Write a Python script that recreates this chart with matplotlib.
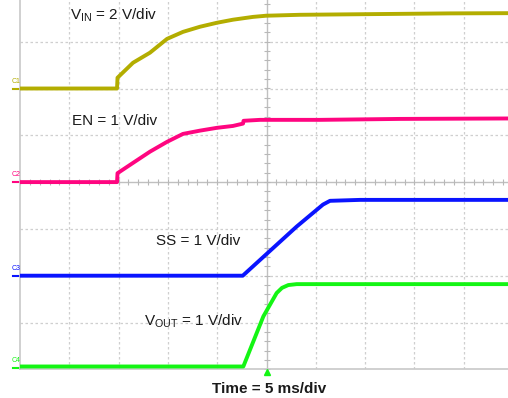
import matplotlib
matplotlib.use("Agg")
import matplotlib.pyplot as plt
import numpy as np

plt.rcParams['font.family'] = ['Liberation Sans', 'DejaVu Sans']

# time in ms (trigger at 0), 5 ms/div
vin_t = [-25.0, -15.16, -15.11, -13.54, -11.82, -10.09, -8.47, -6.74, -5.02,
         -3.40, -1.37, -0.05, 3.40, 8.47, 13.54, 18.6, 25.0]
vin_v = [0.0, 0.0, 0.46, 1.10, 1.53, 2.12, 2.42, 2.64, 2.81,
         2.94, 3.06, 3.11, 3.15, 3.17, 3.19, 3.21, 3.22]

en_t = [-25.0, -15.16, -15.11, -13.54, -11.82, -10.09, -8.47, -6.74, -5.02,
        -3.40, -2.38, -2.33, -0.66, 5.43, 13.54, 25.0]
en_v = [0.0, 0.0, 0.19, 0.41, 0.65, 0.86, 1.03, 1.10, 1.16,
        1.20, 1.25, 1.31, 1.33, 1.33, 1.35, 1.36]

ss_t = [-25.0, -2.41, 3.06, 5.73, 6.44, 9.48, 25.0]
ss_v = [0.0, 0.0, 1.05, 1.52, 1.60, 1.62, 1.62]

vout_t = [-25.0, -2.35, -0.32, 1.03, 1.57, 2.21, 3.06, 25.0]
vout_v = [0.03, 0.03, 1.10, 1.60, 1.71, 1.77, 1.79, 1.79]

# channel name, V/div, screen offset (div), colour, label
channels = [
    ("C1", 2.0, 2.0, "#b3ad00", r"V$_{\mathregular{IN}}$ = 2 V/div", vin_t, vin_v),
    ("C2", 1.0, 0.0, "#ff0580", "EN = 1 V/div", en_t, en_v),
    ("C3", 1.0, -2.0, "#0a14ff", "SS = 1 V/div", ss_t, ss_v),
    ("C4", 1.0, -3.97, "#14f514", r"V$_{\mathregular{OUT}}$ = 1 V/div", vout_t, vout_v),
]
# label anchor (right end, baseline) in (ms, div)
label_pos = [(-11.1, 3.47), (-11.1, 1.22), (-2.69, -1.34), (-2.38, -3.05)]

W, H = 508, 398
fig = plt.figure(figsize=(W / 100, H / 100), dpi=100)
ax = fig.add_axes([20 / W, (H - 369.3) / H, 493 / W, 374.4 / H])
ax.set_xlim(-25, 25)
ax.set_ylim(-4, 4)
ax.set_xticks([])
ax.set_yticks([])
for s in ["top", "right"]:
    ax.spines[s].set_visible(False)
for s in ["left", "bottom"]:
    ax.spines[s].set_color("#c8c8c8")
    ax.spines[s].set_linewidth(1.2)

grid_c = "#cfcfcf"
for gx in np.arange(-20, 25, 5):
    if gx != 0:
        ax.axvline(gx, color=grid_c, lw=0.9, ls=(0, (2, 2)), zorder=1)
for gy in range(-3, 5):
    if gy != 0:
        ax.axhline(gy, color=grid_c, lw=0.9, ls=(0, (2, 2)), zorder=1)
ax.axvline(0, color="#c0c0c0", lw=1.0, zorder=1)
ax.axhline(0, color="#c0c0c0", lw=1.0, zorder=1)
mx = np.arange(-25, 25.01, 1.0)
my = np.arange(-4, 4.01, 0.2)
ax.plot(mx, np.zeros_like(mx), ls="none", marker="|", ms=5, mew=0.8,
        color="#b8b8b8", zorder=1)
ax.plot(np.zeros_like(my), my, ls="none", marker="_", ms=5, mew=0.8,
        color="#b8b8b8", zorder=1)

for (name, vdiv, off, col, lab, t, v), (lx, ly) in zip(channels, label_pos):
    y = np.array(v) / vdiv + off
    ax.plot(t, y, color=col, lw=2.8, solid_joinstyle="round", zorder=3)
    ax.plot([-25.75, -25.0], [off, off], color=col, lw=1.5, clip_on=False)
    ax.text(-25.8, off + 0.08, name, color=col, fontsize=5, ha="left",
            va="bottom", clip_on=False)
    ax.text(lx, ly, lab, fontsize=11, ha="right", va="baseline", color="#1a1a1a")

# trigger marker
ax.plot([0], [-4.06], marker="^", ms=4, color="#14f514", clip_on=False, zorder=4)

fig.text(269 / W, (H - 393) / H, "Time = 5 ms/div", fontsize=11, fontweight="bold",
         ha="center", va="baseline", color="#1a1a1a")

fig.savefig("out.png", dpi=100)
